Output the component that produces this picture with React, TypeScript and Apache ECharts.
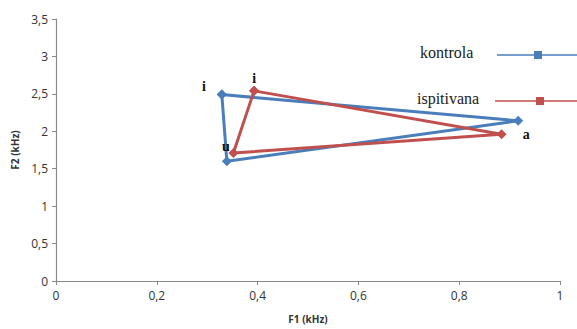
import React, { useEffect, useRef } from "react";
import * as echarts from "echarts";

const seriesNames = ["kontrola", "ispitivana"];
const vowelLabels = ["i", "a", "u", "i"];
const kontrolaF1 = [0.329, 0.917, 0.339, 0.329];
const kontrolaF2 = [2.49, 2.14, 1.6, 2.49];
const ispitivanaF1 = [0.393, 0.884, 0.352, 0.393];
const ispitivanaF2 = [2.54, 1.96, 1.71, 2.54];
const xTicks = [0, 0.2, 0.4, 0.6, 0.8, 1];
const yTicks = [0, 0.5, 1, 1.5, 2, 2.5, 3, 3.5];

const BLUE = "#4A7EBB";
const RED = "#C0504D";

const labelFont = {
  fontFamily: "Liberation Serif",
  fontWeight: "bold" as const,
  fontSize: 14,
  color: "#111",
};

export default function App() {
  const ref = useRef<HTMLDivElement>(null);
  useEffect(() => {
    if (!ref.current) return;
    const chart = echarts.init(ref.current, undefined, { renderer: "svg" });
    const fmt = (v: number) => String(v).replace(".", ",");

    const kData = kontrolaF1.map((x, i) => {
      const item: any = { value: [x, kontrolaF2[i]] };
      if (i === 0) item.label = { show: true, formatter: vowelLabels[0], position: "inside", offset: [-18, -8], ...labelFont };
      if (i === 1) item.label = { show: true, formatter: vowelLabels[1], position: "inside", offset: [8, 14], ...labelFont };
      if (i === 2) item.label = { show: true, formatter: vowelLabels[2], position: "inside", offset: [-1, -15], ...labelFont };
      return item;
    });
    const rData = ispitivanaF1.map((x, i) => {
      const item: any = { value: [x, ispitivanaF2[i]] };
      if (i === 0) item.label = { show: true, formatter: vowelLabels[0], position: "inside", offset: [0, -12], ...labelFont };
      return item;
    });

    const legendItems = [
      { name: seriesNames[0], color: BLUE, y: 54, textX: 420, lineX: 497, markX: 538 },
      { name: seriesNames[1], color: RED, y: 100, textX: 417, lineX: 495, markX: 540 },
    ];
    const graphic: any[] = [];
    legendItems.forEach((l) => {
      graphic.push({
        type: "text",
        left: l.textX,
        top: l.y - 10,
        style: { text: l.name, fontFamily: "Liberation Serif", fontSize: 16, fill: "#1a1a1a" },
      });
      graphic.push({
        type: "line",
        shape: { x1: l.lineX, y1: l.y + 1, x2: 577, y2: l.y + 1 },
        style: { stroke: l.color, lineWidth: 1.5 },
      });
      graphic.push({
        type: "rect",
        shape: { x: l.markX - 4, y: l.y - 3, width: 8, height: 8 },
        style: { fill: l.color },
      });
    });

    chart.setOption({
      animation: false,
      backgroundColor: "#fff",
      grid: { left: 56, right: 17, top: 19, bottom: 45 },
      xAxis: {
        type: "value",
        min: xTicks[0],
        max: xTicks[xTicks.length - 1],
        interval: 0.2,
        name: "F1 (kHz)",
        nameLocation: "middle",
        nameGap: 33,
        nameTextStyle: { fontFamily: "Open Sans", fontWeight: "bold", fontSize: 10, color: "#333" },
        axisLine: { lineStyle: { color: "#8a8a8a", width: 1.2 } },
        axisTick: { show: true, length: 4, lineStyle: { color: "#8a8a8a" } },
        axisLabel: { formatter: fmt, fontFamily: "Open Sans", fontSize: 12, color: "#333", margin: 8 },
        splitLine: { show: false },
      },
      yAxis: {
        type: "value",
        min: yTicks[0],
        max: yTicks[yTicks.length - 1],
        interval: 0.5,
        name: "F2 (kHz)",
        nameLocation: "middle",
        nameGap: 34,
        nameTextStyle: { fontFamily: "Open Sans", fontWeight: "bold", fontSize: 10, color: "#333" },
        axisLine: { show: true, lineStyle: { color: "#8a8a8a", width: 1.2 } },
        axisTick: { show: true, length: 4, lineStyle: { color: "#8a8a8a" } },
        axisLabel: { formatter: fmt, fontFamily: "Open Sans", fontSize: 12, color: "#333", margin: 8 },
        splitLine: { show: false },
      },
      series: [
        {
          name: seriesNames[0],
          type: "line",
          data: kData,
          symbol: "diamond",
          symbolSize: 10,
          lineStyle: { color: BLUE, width: 3 },
          itemStyle: { color: BLUE },
          z: 2,
        },
        {
          name: seriesNames[1],
          type: "line",
          data: rData,
          symbol: "diamond",
          symbolSize: 10,
          lineStyle: { color: RED, width: 3 },
          itemStyle: { color: RED },
          z: 3,
        },
      ],
      graphic,
    });
    return () => chart.dispose();
  }, []);
  return <div ref={ref} style={{ width: 577, height: 329, position: "absolute", left: 0, top: 0 }} />;
}
